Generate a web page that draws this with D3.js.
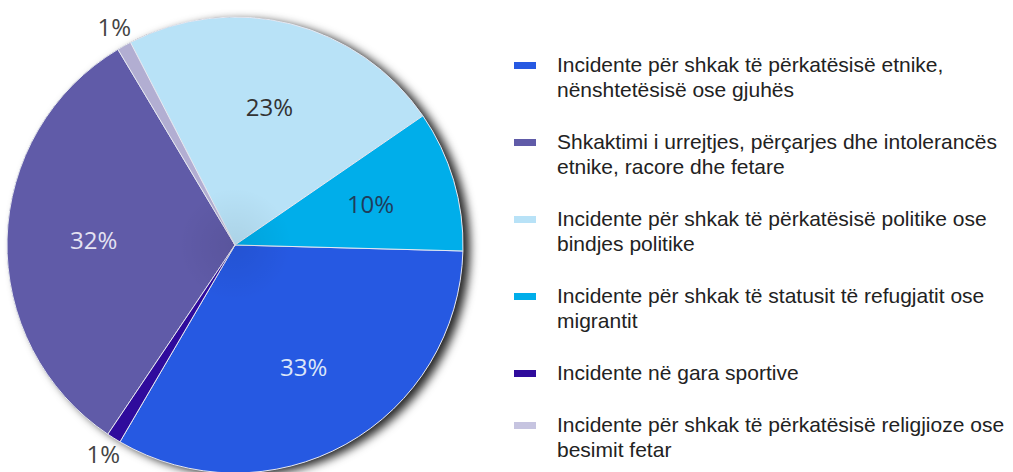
<!DOCTYPE html>
<html lang="sq">
<head>
  <meta charset="UTF-8">
  <title>Incidente</title>
  <script src="https://d3js.org/d3.v7.min.js"></script>
  <style>
    body { margin: 0; background: #fff; }
  </style>
</head>
<body>
  <svg width="1013" height="472"></svg>
  <script>
    // legend order
    const categories = [
      "Incidente për shkak të përkatësisë etnike,\nnënshtetësisë ose gjuhës",
      "Shkaktimi i urrejtjes, përçarjes dhe intolerancës\netnike, racore dhe fetare",
      "Incidente për shkak të përkatësisë politike ose\nbindjes politike",
      "Incidente për shkak të statusit të refugjatit ose\nmigrantit",
      "Incidente në gara sportive",
      "Incidente për shkak të përkatësisë religjioze ose\nbesimit fetar"
    ]
    const values = [33, 32, 23, 10, 1, 1]
    const colors = ["#2659e2", "#605ba8", "#b8e2f7", "#00aeea", "#2f0b9c", "#b2aed2"]
    const legendColors = ["#2659e2", "#605ba8", "#b8e2f7", "#00aeea", "#2f0b9c", "#c6c4e0"]
    const labelColors = ["#dce6f8", "#e4e2f2", "#333", "#1f3d5c", "#444", "#444"]
    // order of the slices clockwise round the pie
    const pieOrder = [0, 4, 1, 5, 2, 3]

    const data = categories.map((c, i) => ({
      name: c, value: values[i], color: colors[i], i: i, order: pieOrder.indexOf(i)
    }))

    const svg = d3.select("svg")
    const cx = 235, cy = 245, R = 228

    const defs = svg.append("defs")
    const shadow = defs.append("filter").attr("id", "shadow")
      .attr("x", "-20%").attr("y", "-20%").attr("width", "140%").attr("height", "140%")
    shadow.append("feDropShadow")
      .attr("dx", 7).attr("dy", 3).attr("stdDeviation", 5)
      .attr("flood-color", "#000").attr("flood-opacity", 0.85)

    const shade = defs.append("radialGradient").attr("id", "shade")
      .attr("gradientUnits", "userSpaceOnUse")
      .attr("cx", 0).attr("cy", 0).attr("r", R)
    shade.append("stop").attr("offset", "0%").attr("stop-color", "#000").attr("stop-opacity", 0.07)
    shade.append("stop").attr("offset", "25%").attr("stop-color", "#000").attr("stop-opacity", 0)
    shade.append("stop").attr("offset", "100%").attr("stop-color", "#000").attr("stop-opacity", 0)

    const g = svg.append("g").attr("transform", "translate(" + cx + "," + cy + ")")

    const start = 91.5 * Math.PI / 180
    const pie = d3.pie()
      .value(d => d.value)
      .sort((a, b) => a.order - b.order)
      .startAngle(start)
      .endAngle(start + 2 * Math.PI)
    const arcs = pie(data)

    const arc = d3.arc().innerRadius(0).outerRadius(R)
    const labelArc = d3.arc().innerRadius(R * 0.62).outerRadius(R * 0.62)
    const outerArc = d3.arc().innerRadius(R + 20).outerRadius(R + 20)

    // shadow disc behind the pie
    g.append("circle").attr("r", R).attr("fill", "#444").attr("filter", "url(#shadow)")

    g.selectAll("path.slice")
      .data(arcs)
      .enter()
      .append("path")
      .attr("class", "slice")
      .attr("d", arc)
      .attr("fill", d => d.data.color)
      .attr("stroke", "#e6e8f2")
      .attr("stroke-width", 1)

    g.append("circle").attr("r", R).attr("fill", "url(#shade)").attr("pointer-events", "none")

    // percentage labels
    g.selectAll("text.pct")
      .data(arcs)
      .enter()
      .append("text")
      .attr("class", "pct")
      .attr("transform", d => {
        const p = d.data.value < 5 ? outerArc.centroid(d) : labelArc.centroid(d)
        return "translate(" + p + ")"
      })
      .attr("text-anchor", "middle")
      .attr("dy", "0.33em")
      .attr("font-family", "'Open Sans', sans-serif")
      .attr("font-size", 24)
      .attr("fill", d => labelColors[d.data.i])
      .text(d => d.data.value + "%")

    // legend
    const lx = 514, tx = 557, lineH = 25, gap = 27
    let y = 72
    const legend = svg.append("g")
    data.forEach((d, i) => {
      const lines = d.name.split("\n")
      legend.append("rect")
        .attr("x", lx).attr("y", y - 10)
        .attr("width", 22).attr("height", 7)
        .attr("fill", legendColors[i])
      const t = legend.append("text")
        .attr("x", tx).attr("y", y)
        .attr("font-family", "'Liberation Sans', Arial, sans-serif")
        .attr("font-size", 21)
        .attr("fill", "#222")
      lines.forEach((l, k) => {
        t.append("tspan").attr("x", tx).attr("dy", k === 0 ? 0 : lineH).text(l)
      })
      y += lines.length * lineH + gap
    })
  </script>
</body>
</html>
